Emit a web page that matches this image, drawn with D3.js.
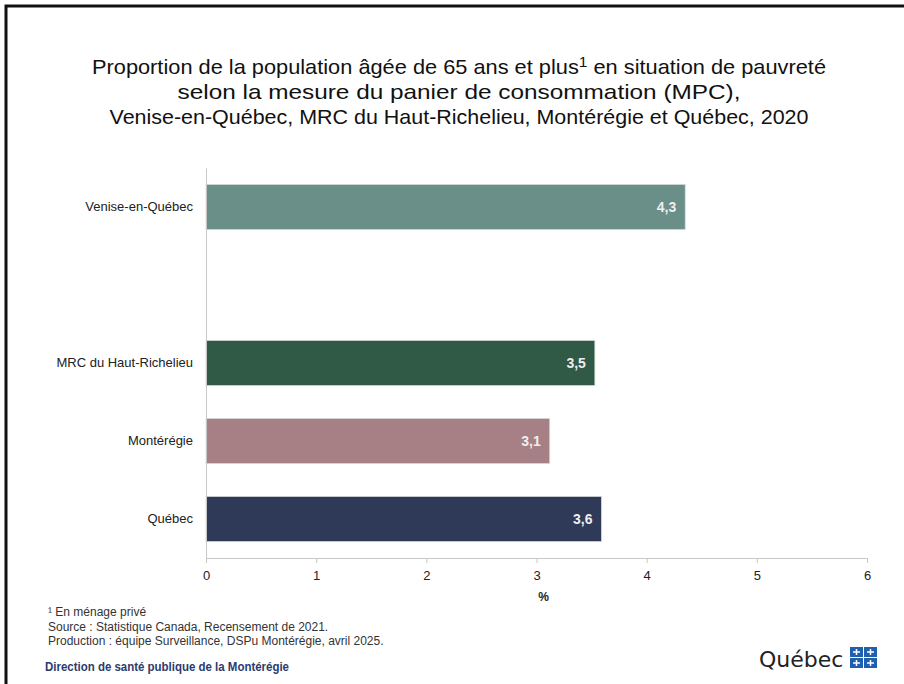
<!DOCTYPE html>
<html>
<head>
<meta charset="utf-8">
<script src="https://cdn.jsdelivr.net/npm/d3@7"></script>
<style>
  body { margin: 0; background: #fff; }
  svg { display: block; }
</style>
</head>
<body>
<div id="chart"></div>
<script>
// Données
var categories = ["Venise-en-Québec", "", "MRC du Haut-Richelieu", "Montérégie", "Québec"];
var valeurs = [4.35, null, 3.53, 3.12, 3.59];
var etiquettes = ["4,3", "", "3,5", "3,1", "3,6"];
var couleurs = ["#6a8f89", null, "#305a45", "#a78086", "#2f3a58"];
var ticks = [0, 1, 2, 3, 4, 5, 6];

var width = 904, height = 684;
var margin = {top: 168, right: 37, bottom: 126, left: 206};
var police = "'Liberation Sans', Arial, sans-serif";

var svg = d3.select("#chart").append("svg")
  .attr("width", width)
  .attr("height", height);

// cadre
svg.append("path")
  .attr("d", "M6,684 V6 H904")
  .attr("fill", "none")
  .attr("stroke", "#111")
  .attr("stroke-width", 3);

// titre
function ligneTitre(yPos, longueur) {
  return svg.append("text")
    .attr("x", 459)
    .attr("y", yPos)
    .attr("text-anchor", "middle")
    .attr("textLength", longueur)
    .attr("lengthAdjust", "spacingAndGlyphs")
    .style("font-family", police)
    .style("font-size", "21px")
    .attr("fill", "#111");
}
var l1 = ligneTitre(74, 734);
l1.append("tspan").text("Proportion de la population âgée de 65 ans et plus");
l1.append("tspan").text("1").attr("dy", -7).style("font-size", "15px");
l1.append("tspan").text(" en situation de pauvreté").attr("dy", 7);
ligneTitre(99, 563).text("selon la mesure du panier de consommation (MPC),");
ligneTitre(124, 699).text("Venise-en-Québec, MRC du Haut-Richelieu, Montérégie et Québec, 2020");

var x = d3.scaleLinear()
  .domain([0, 6])
  .range([margin.left, width - margin.right]);

var y = d3.scaleBand()
  .domain(categories.map(function(d, i) { return i; }))
  .range([margin.top, height - margin.bottom])
  .paddingInner(0.42)
  .paddingOuter(0.21);

var data = categories.map(function(c, i) {
  return {cat: c, val: valeurs[i], lab: etiquettes[i], col: couleurs[i], i: i};
}).filter(function(d) { return d.val !== null; });

// barres
svg.selectAll(".bar")
  .data(data)
  .enter().append("rect")
  .attr("class", "bar")
  .attr("x", x(0))
  .attr("y", function(d) { return y(d.i); })
  .attr("width", function(d) { return x(d.val) - x(0); })
  .attr("height", y.bandwidth())
  .attr("fill", function(d) { return d.col; })
  .attr("stroke", "#d8dcdc")
  .attr("stroke-width", 0.8);

// étiquettes de valeurs
svg.selectAll(".val")
  .data(data)
  .enter().append("text")
  .attr("x", function(d) { return x(d.val) - 9; })
  .attr("y", function(d) { return y(d.i) + y.bandwidth() / 2 + 5; })
  .attr("text-anchor", "end")
  .style("font-family", police)
  .style("font-size", "14px")
  .style("font-weight", "bold")
  .attr("fill", "#eeeeee")
  .text(function(d) { return d.lab; });

// axe vertical
var axeY = svg.append("g")
  .attr("transform", "translate(" + x(0) + ",0)")
  .call(d3.axisLeft(y).tickSize(0).tickPadding(13).tickFormat(function(i) { return categories[i]; }));
axeY.select(".domain").attr("stroke", "#c8c8c8");
axeY.selectAll("text")
  .style("font-family", police)
  .style("font-size", "13px")
  .attr("fill", "#222");

// axe horizontal
var axeX = svg.append("g")
  .attr("transform", "translate(0," + (height - margin.bottom) + ")")
  .call(d3.axisBottom(x).tickValues(ticks).tickSize(5).tickSizeOuter(0).tickPadding(8).tickFormat(d3.format("d")));
axeX.select(".domain").attr("stroke", "#c8c8c8");
axeX.selectAll(".tick line").attr("stroke", "#c8c8c8");
axeX.selectAll("text")
  .style("font-family", police)
  .style("font-size", "13px")
  .attr("fill", "#222");

svg.append("text")
  .attr("x", (x(0) + x(6)) / 2 + 7)
  .attr("y", 601)
  .attr("text-anchor", "middle")
  .style("font-family", police)
  .style("font-size", "12px")
  .style("font-weight", "bold")
  .attr("fill", "#222")
  .text("%");

// notes
var notes = ["¹ En ménage privé", "Source : Statistique Canada, Recensement de 2021.", "Production : équipe Surveillance, DSPu Montérégie, avril 2025."];
svg.selectAll(".note")
  .data(notes)
  .enter().append("text")
  .attr("x", 48)
  .attr("y", function(d, i) { return 616 + i * 14.5; })
  .style("font-family", police)
  .style("font-size", "12px")
  .attr("fill", "#333")
  .text(function(d) { return d; });

svg.append("text")
  .attr("x", 45)
  .attr("y", 671)
  .attr("textLength", 244)
  .attr("lengthAdjust", "spacingAndGlyphs")
  .style("font-family", police)
  .style("font-size", "12px")
  .style("font-weight", "bold")
  .attr("fill", "#2c3b6e")
  .text("Direction de santé publique de la Montérégie");

// logo Québec
svg.append("text")
  .attr("x", 759)
  .attr("y", 667)
  .style("font-family", "'DejaVu Sans', sans-serif")
  .style("font-size", "22px")
  .attr("fill", "#222")
  .text("Québec");
var drapeau = svg.append("g").attr("transform", "translate(850,647)");
[[0, 0], [14, 0], [0, 11], [14, 11]].forEach(function(p) {
  drapeau.append("rect").attr("x", p[0]).attr("y", p[1]).attr("width", 13).attr("height", 10).attr("fill", "#1f5fb0");
  drapeau.append("path")
    .attr("d", "M" + (p[0] + 6.5) + "," + (p[1] + 2) + " V" + (p[1] + 8) + " M" + (p[0] + 3) + "," + (p[1] + 5) + " H" + (p[0] + 10))
    .attr("stroke", "#fff").attr("stroke-width", 1.5);
});
</script>
</body>
</html>
